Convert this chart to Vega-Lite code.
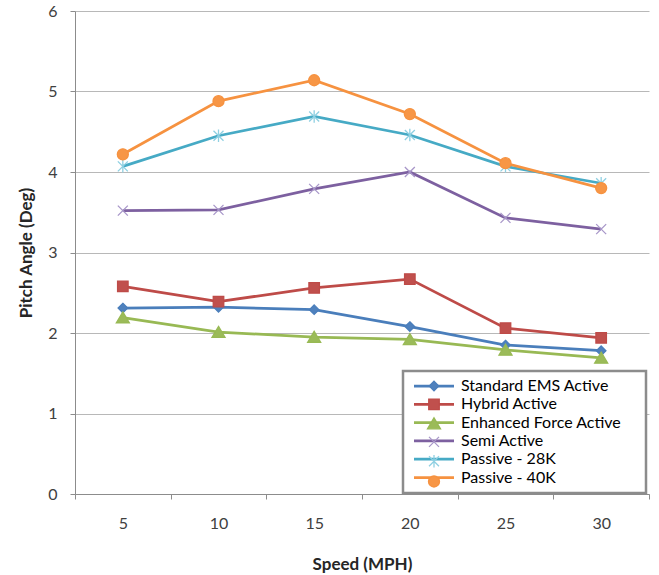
{
  "$schema": "https://vega.github.io/schema/vega-lite/v6.json",
  "autosize": "none",
  "width": 574,
  "height": 483,
  "padding": {"left": 75, "top": 11, "right": 10, "bottom": 81},
  "background": "white",
  "config": {"view": {"stroke": null}, "font": "Lato"},
  "data": {"values": [
    {"speed": "5", "series": "Standard EMS Active", "v": 2.31},
    {"speed": "10", "series": "Standard EMS Active", "v": 2.32},
    {"speed": "15", "series": "Standard EMS Active", "v": 2.29},
    {"speed": "20", "series": "Standard EMS Active", "v": 2.08},
    {"speed": "25", "series": "Standard EMS Active", "v": 1.85},
    {"speed": "30", "series": "Standard EMS Active", "v": 1.78},
    {"speed": "5", "series": "Hybrid Active", "v": 2.58},
    {"speed": "10", "series": "Hybrid Active", "v": 2.39},
    {"speed": "15", "series": "Hybrid Active", "v": 2.56},
    {"speed": "20", "series": "Hybrid Active", "v": 2.67},
    {"speed": "25", "series": "Hybrid Active", "v": 2.06},
    {"speed": "30", "series": "Hybrid Active", "v": 1.94},
    {"speed": "5", "series": "Enhanced Force Active", "v": 2.19},
    {"speed": "10", "series": "Enhanced Force Active", "v": 2.01},
    {"speed": "15", "series": "Enhanced Force Active", "v": 1.95},
    {"speed": "20", "series": "Enhanced Force Active", "v": 1.92},
    {"speed": "25", "series": "Enhanced Force Active", "v": 1.79},
    {"speed": "30", "series": "Enhanced Force Active", "v": 1.69},
    {"speed": "5", "series": "Semi Active", "v": 3.52},
    {"speed": "10", "series": "Semi Active", "v": 3.53},
    {"speed": "15", "series": "Semi Active", "v": 3.79},
    {"speed": "20", "series": "Semi Active", "v": 4.00},
    {"speed": "25", "series": "Semi Active", "v": 3.43},
    {"speed": "30", "series": "Semi Active", "v": 3.29},
    {"speed": "5", "series": "Passive - 28K", "v": 4.07},
    {"speed": "10", "series": "Passive - 28K", "v": 4.45},
    {"speed": "15", "series": "Passive - 28K", "v": 4.69},
    {"speed": "20", "series": "Passive - 28K", "v": 4.46},
    {"speed": "25", "series": "Passive - 28K", "v": 4.07},
    {"speed": "30", "series": "Passive - 28K", "v": 3.86},
    {"speed": "5", "series": "Passive - 40K", "v": 4.22},
    {"speed": "10", "series": "Passive - 40K", "v": 4.88},
    {"speed": "15", "series": "Passive - 40K", "v": 5.14},
    {"speed": "20", "series": "Passive - 40K", "v": 4.72},
    {"speed": "25", "series": "Passive - 40K", "v": 4.11},
    {"speed": "30", "series": "Passive - 40K", "v": 3.80}
  ]},
  "encoding": {
    "x": {
      "field": "speed", "type": "ordinal", "sort": ["5", "10", "15", "20", "25", "30"],
      "scale": {"type": "band", "paddingInner": 0, "paddingOuter": 0},
      "axis": {
        "title": "Speed (MPH)", "titleFont": "Lato", "titleFontSize": 17, "titleFontWeight": "bold", "titleColor": "#262626", "titlePadding": 25,
        "labelFont": "Lato", "labelFontSize": 16, "labelColor": "#404040", "labelAngle": 0, "labelPadding": 16,
        "tickBand": "extent", "tickSize": 5, "tickColor": "#8c8c8c", "domainColor": "#8c8c8c", "grid": false
      }
    },
    "y": {
      "field": "v", "type": "quantitative",
      "scale": {"domain": [0, 6], "nice": false, "zero": true},
      "axis": {
        "values": [0, 1, 2, 3, 4, 5, 6],
        "title": "Pitch Angle (Deg)", "titleFont": "Lato", "titleFontSize": 17, "titleFontWeight": "bold", "titleColor": "#262626", "titlePadding": 12,
        "labelFont": "Lato", "labelFontSize": 16, "labelColor": "#404040", "labelPadding": 13,
        "tickSize": 5, "tickColor": "#8c8c8c", "domainColor": "#8c8c8c", "grid": true, "gridColor": "#b8b8b8", "gridWidth": 1
      }
    }
  },
  "layer": [
    {
      "mark": {"type": "line", "strokeWidth": 2.75},
      "encoding": {
        "stroke": {
          "field": "series", "type": "nominal",
          "scale": {
            "domain": ["Standard EMS Active", "Hybrid Active", "Enhanced Force Active", "Semi Active", "Passive - 28K", "Passive - 40K"],
            "range": ["#4a7ebb", "#be4b48", "#98b954", "#7d60a0", "#46aac5", "#f69240"]
          },
          "legend": {
            "title": "\u00a0", "titleOrient": "right", "titlePadding": 18, "titleFontSize": 16,
            "orient": "none", "legendX": 328, "legendY": 360,
            "symbolType": "M-4,0H4", "symbolSize": 100, "symbolStrokeWidth": 2.75,
            "padding": 7, "rowPadding": 2.3, "strokeColor": "#8c8c8c", "fillColor": "white",
            "labelFont": "Lato", "labelFontSize": 16, "labelColor": "#000000", "labelLimit": 400,
            "labelExpr": "datum.label + '\u00a0\u00a0\u00a0\u00a0\u00a0\u00a0\u00a0\u00a0\u00a0\u00a0\u00a0\u00a0\u00a0\u00a0\u00a0\u00a0\u00a0\u00a0\u00a0\u00a0\u00a0\u00a0\u00a0'",
            "symbolOffset": 16, "labelOffset": 19, "zindex": 1,
            "encode": {"legend": {"update": {"strokeWidth": {"value": 2.5}}}}
          }
        }
      }
    },
    {
      "mark": {"type": "point", "size": 100, "strokeWidth": 1.3, "opacity": 1},
      "encoding": {
        "shape": {
          "field": "series", "type": "nominal",
          "scale": {
            "domain": ["Standard EMS Active", "Hybrid Active", "Enhanced Force Active", "Semi Active", "Passive - 28K", "Passive - 40K"],
            "range": [
              "M0,-0.95L0.95,0L0,0.95L-0.95,0Z",
              "M-1.05,-1.05H1.05V1.05H-1.05Z",
              "M0,-1.15L1.3,1.05L-1.3,1.05Z",
              "M-1,-1L1,1M-1,1L1,-1",
              "M-1,-1L1,1M-1,1L1,-1M0,-1.25V1.25",
              "M1.1,0A1.1,1.1,0,1,1,-1.1,0A1.1,1.1,0,1,1,1.1,0Z"
            ]
          },
          "legend": {
            "title": null, "orient": "none", "legendX": 328, "legendY": 360,
            "symbolSize": 100, "symbolStrokeWidth": 1.3,
            "padding": 7, "rowPadding": 2.3,
            "labelFont": "Lato", "labelFontSize": 16, "labelExpr": "''",
            "symbolOffset": 16, "labelOffset": 19, "zindex": 2
          }
        },
        "fill": {
          "field": "series", "type": "nominal",
          "scale": {
            "domain": ["Standard EMS Active", "Hybrid Active", "Enhanced Force Active", "Semi Active", "Passive - 28K", "Passive - 40K"],
            "range": ["#4f81bd", "#c0504d", "#9bbb59", "transparent", "transparent", "#f79646"]
          },
          "legend": {
            "title": null, "orient": "none", "legendX": 328, "legendY": 360,
            "symbolSize": 100, "symbolStrokeWidth": 1.3,
            "padding": 7, "rowPadding": 2.3,
            "labelFont": "Lato", "labelFontSize": 16, "labelExpr": "''",
            "symbolOffset": 16, "labelOffset": 19, "zindex": 2
          }
        },
        "stroke": {
          "field": "series", "type": "nominal",
          "scale": {
            "domain": ["Standard EMS Active", "Hybrid Active", "Enhanced Force Active", "Semi Active", "Passive - 28K", "Passive - 40K"],
            "range": ["#4a7ebb", "#be4b48", "#98b954", "#a897c9", "#8fd0e2", "#f69240"]
          },
          "legend": {
            "title": null, "orient": "none", "legendX": 328, "legendY": 360,
            "symbolSize": 100, "symbolStrokeWidth": 1.3,
            "padding": 7, "rowPadding": 2.3,
            "labelFont": "Lato", "labelFontSize": 16, "labelExpr": "''",
            "symbolOffset": 16, "labelOffset": 19, "zindex": 2
          }
        }
      }
    }
  ],
  "resolve": {
    "scale": {"stroke": "independent", "fill": "independent", "shape": "independent"},
    "legend": {"stroke": "independent", "fill": "independent", "shape": "independent"}
  }
}
